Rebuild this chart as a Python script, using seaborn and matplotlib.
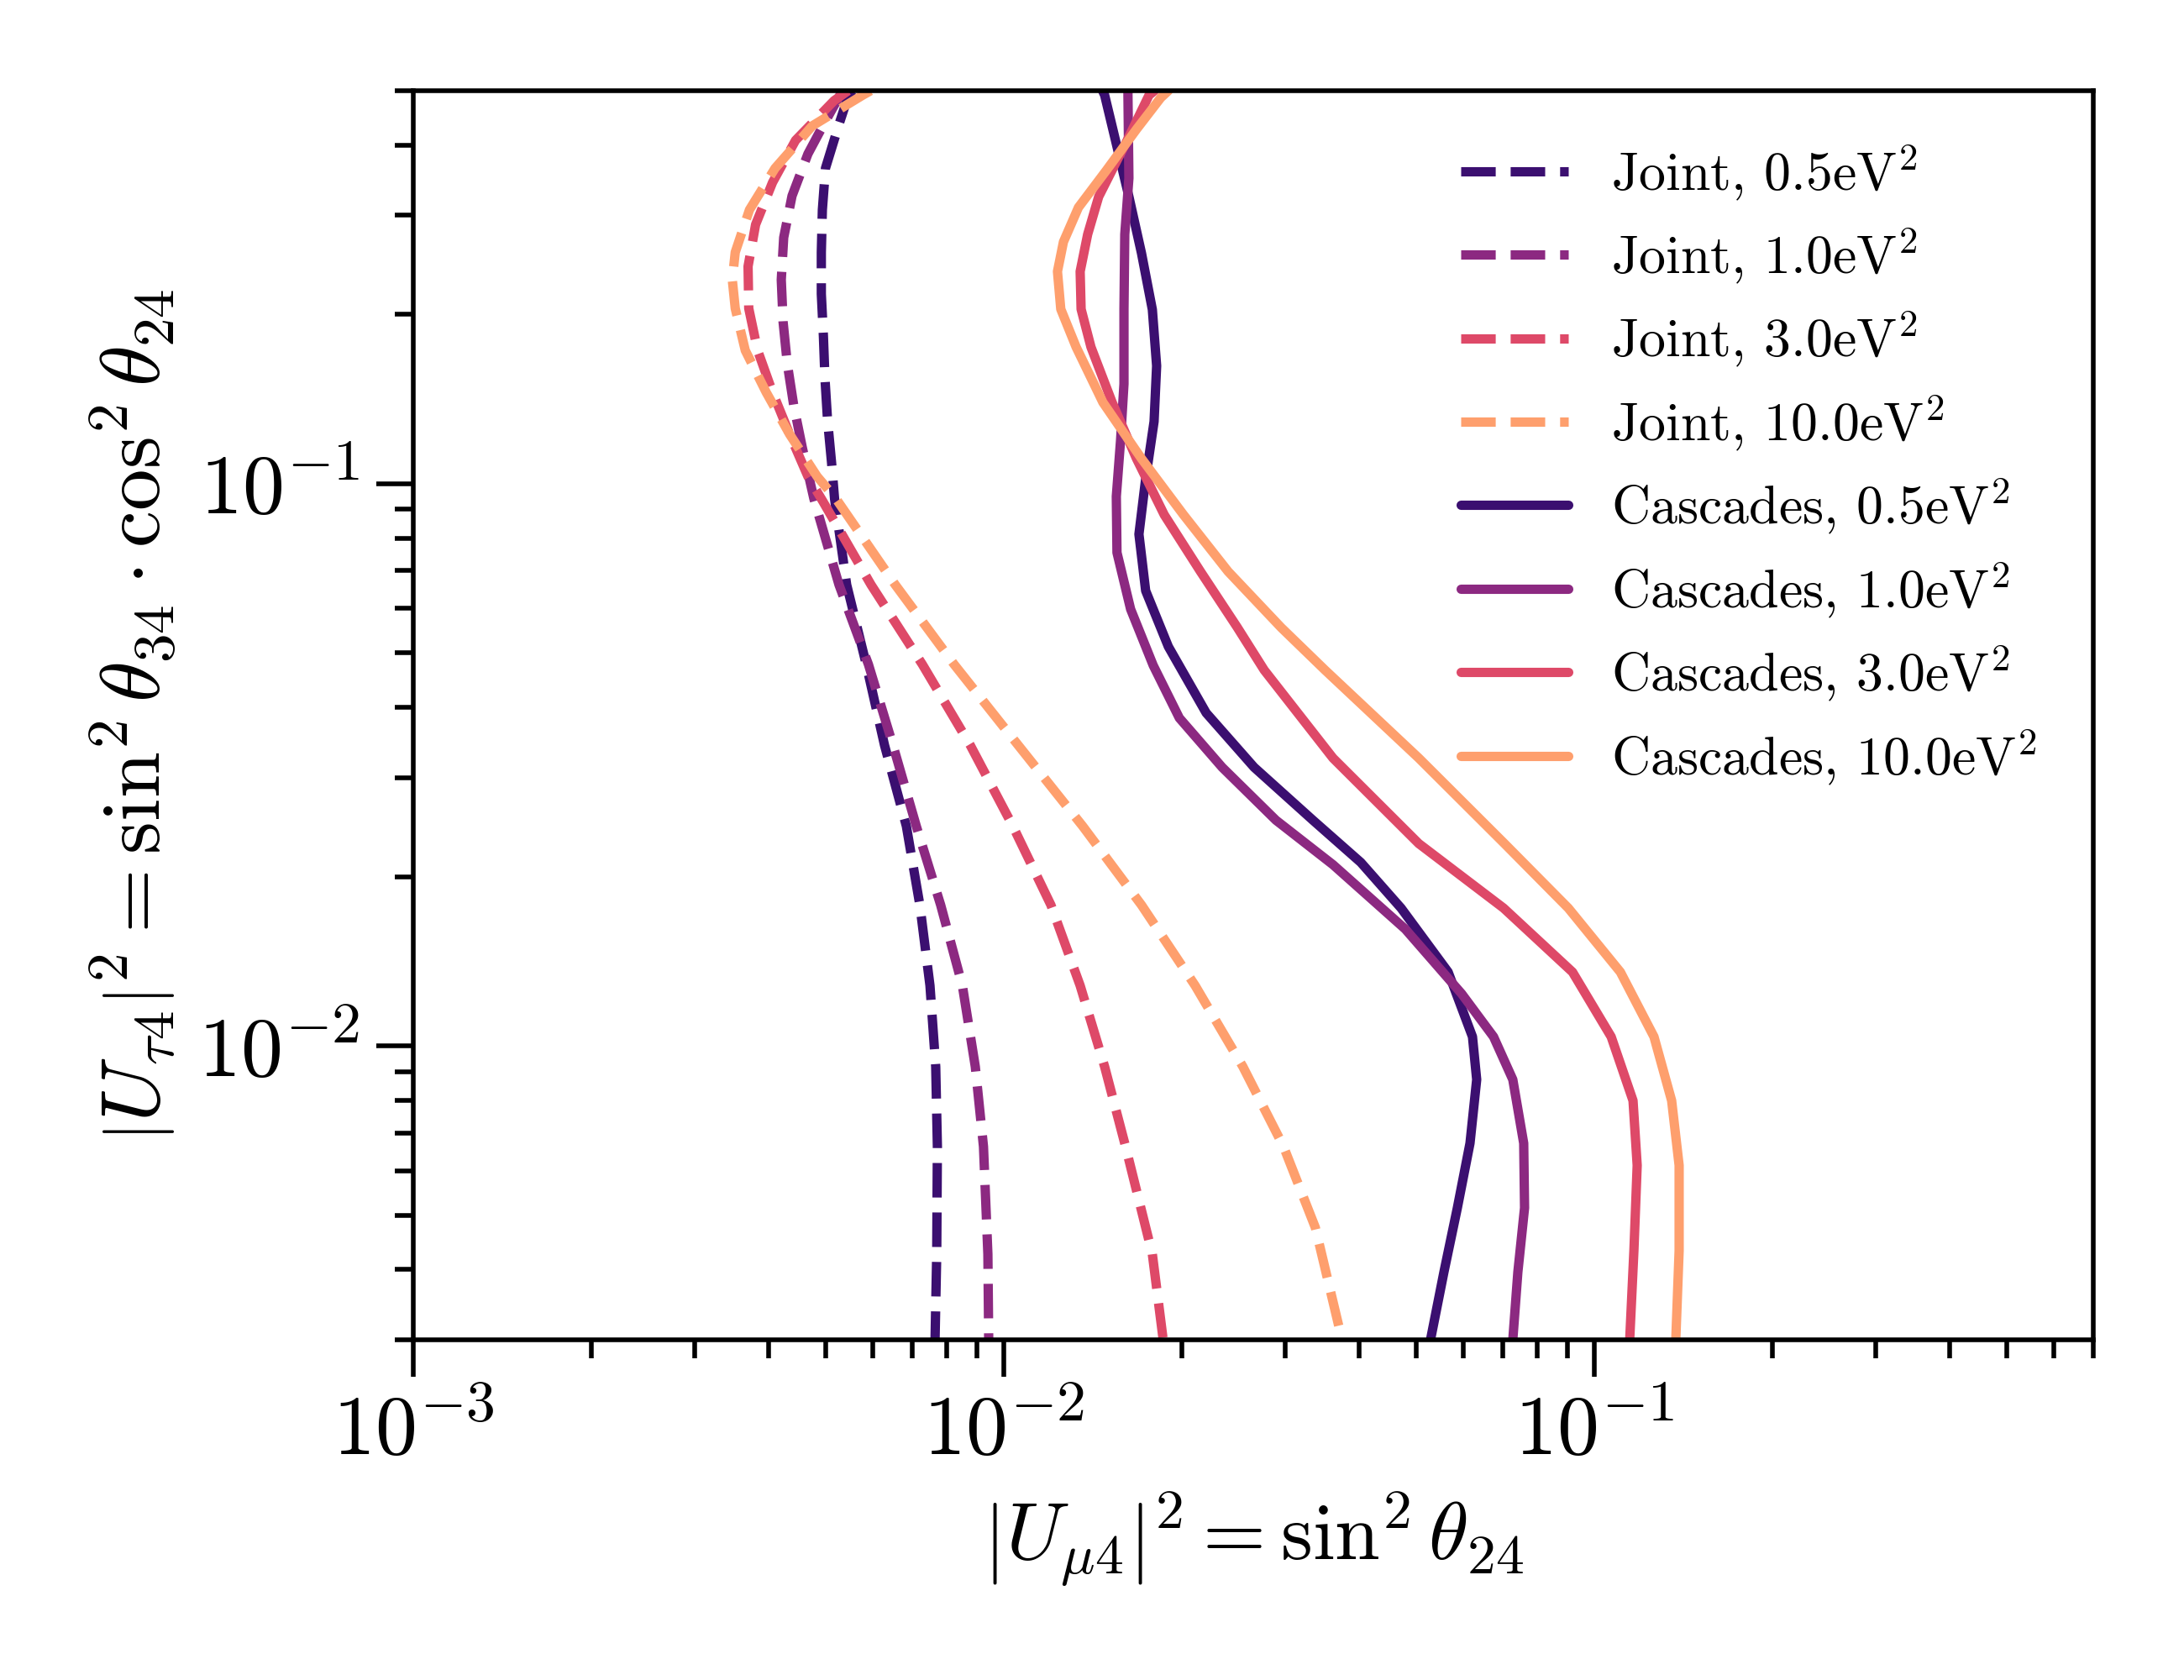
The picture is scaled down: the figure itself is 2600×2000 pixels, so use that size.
import numpy as np
import pandas as pd
import matplotlib
matplotlib.use("Agg")
import matplotlib.pyplot as plt
import seaborn as sns

# ------------------------------------------------------------------------------ #
# Data (x = |U_mu4|^2, y = |U_tau4|^2)
# ------------------------------------------------------------------------------ #
joint_05_y = [0.5, 0.491, 0.433, 0.364, 0.307, 0.258, 0.2175, 0.183, 0.154, 0.130, 0.109,
              0.094, 0.0661, 0.0477, 0.0343, 0.0246, 0.0178, 0.0128, 0.00918, 0.00662,
              0.00426, 0.003]
joint_05_x = [5.55e-3, 5.46e-3, 5.25e-3, 4.99e-3, 4.93e-3, 4.91e-3, 4.91e-3, 4.95e-3, 4.98e-3,
              5.03e-3, 5.11e-3, 5.17e-3, 5.42e-3, 5.85e-3, 6.28e-3, 6.84e-3, 7.21e-3, 7.50e-3,
              7.67e-3, 7.72e-3, 7.70e-3, 7.65e-3]

joint_1_y = [0.5, 0.491, 0.433, 0.386, 0.325, 0.274, 0.2305, 0.194, 0.1634, 0.1376, 0.1158,
             0.094, 0.0661, 0.0477, 0.0343, 0.0246, 0.0178, 0.0128, 0.00918, 0.00662,
             0.00426, 0.003]
joint_1_x = [5.45e-3, 5.28e-3, 4.94e-3, 4.66e-3, 4.38e-3, 4.24e-3, 4.20e-3, 4.23e-3, 4.30e-3,
             4.41e-3, 4.56e-3, 4.77e-3, 5.26e-3, 5.90e-3, 6.49e-3, 7.11e-3, 7.82e-3, 8.51e-3,
             8.95e-3, 9.24e-3, 9.40e-3, 9.43e-3]

joint_3_y = [0.5, 0.480, 0.408, 0.3435, 0.289, 0.2435, 0.205, 0.1726, 0.1454, 0.1224, 0.1030,
             0.093, 0.0661, 0.0477, 0.0343, 0.0246, 0.0178, 0.0128, 0.00918, 0.00662,
             0.00426, 0.003]
joint_3_x = [5.45e-3, 5.16e-3, 4.44e-3, 4.06e-3, 3.80e-3, 3.69e-3, 3.70e-3, 3.83e-3, 4.06e-3,
             4.34e-3, 4.66e-3, 4.94e-3, 5.96e-3, 7.28e-3, 8.77e-3, 1.036e-2, 1.202e-2,
             1.347e-2, 1.482e-2, 1.608e-2, 1.785e-2, 1.862e-2]

joint_10_y = [0.5, 0.491, 0.433, 0.364, 0.307, 0.258, 0.2305, 0.205, 0.1726, 0.1454, 0.1224,
              0.1030, 0.094, 0.0661, 0.0477, 0.0343, 0.0246, 0.0178, 0.0128, 0.00918,
              0.00662, 0.00475, 0.003]
joint_10_x = [5.95e-3, 5.77e-3, 4.74e-3, 4.10e-3, 3.71e-3, 3.51e-3, 3.47e-3, 3.51e-3, 3.65e-3,
              3.96e-3, 4.34e-3, 4.83e-3, 5.20e-3, 6.55e-3, 8.24e-3, 1.057e-2, 1.360e-2,
              1.711e-2, 2.109e-2, 2.541e-2, 2.977e-2, 3.37e-2, 3.74e-2]

casc_05_y = [0.5, 0.491, 0.408, 0.324, 0.257, 0.204, 0.162, 0.129, 0.102, 0.0813, 0.0645,
             0.0513, 0.0391, 0.0313, 0.0252, 0.0212, 0.01758, 0.01353, 0.01038, 0.00871,
             0.00671, 0.00515, 0.00396, 0.003]
casc_05_x = [0.0147, 0.01482, 0.01546, 0.01629, 0.01711, 0.01785, 0.01815, 0.01797, 0.01739,
             0.01694, 0.01739, 0.01900, 0.02202, 0.02654, 0.03338, 0.04023, 0.04708, 0.05656,
             0.06219, 0.06322, 0.06159, 0.05863, 0.05564, 0.05280]

casc_1_y = [0.5, 0.491, 0.3495, 0.2776, 0.2044, 0.1505, 0.1195, 0.0949, 0.0754, 0.0598,
            0.0475, 0.0383, 0.0313, 0.0252, 0.0210, 0.01613, 0.01238, 0.01038, 0.00871,
            0.00671, 0.00515, 0.00396, 0.003]
casc_1_x = [0.01623, 0.01623, 0.01629, 0.01603, 0.01598, 0.01598, 0.01577, 0.01551, 0.01555,
            0.01640, 0.01791, 0.01983, 0.02343, 0.02890, 0.03610, 0.04786, 0.05961, 0.06751,
            0.07278, 0.07594, 0.07619, 0.07423, 0.07278]

casc_3_y = [0.5, 0.491, 0.408, 0.324, 0.2776, 0.2385, 0.2044, 0.1750, 0.1395, 0.1108, 0.0880,
            0.0698, 0.0555, 0.0466, 0.0325, 0.0229, 0.01758, 0.01353, 0.01038, 0.00799,
            0.00613, 0.00432, 0.003]
casc_3_x = [0.0180, 0.01762, 0.01618, 0.01448, 0.01387, 0.01347, 0.01352, 0.01405, 0.01526,
            0.01678, 0.01870, 0.02153, 0.02486, 0.02761, 0.03610, 0.05043, 0.07021, 0.09185,
            0.1068, 0.1163, 0.1182, 0.1167, 0.1148]

casc_10_y = [0.5, 0.486, 0.427, 0.3605, 0.310, 0.2692, 0.2385, 0.2044, 0.1750, 0.1395, 0.1108,
             0.0880, 0.0698, 0.0555, 0.0466, 0.0325, 0.0229, 0.01758, 0.01353, 0.01038,
             0.00799, 0.00613, 0.00432, 0.003]
casc_10_x = [0.0190, 0.01845, 0.01678, 0.01491, 0.01338, 0.01262, 0.01233, 0.01249, 0.01326,
             0.01472, 0.01711, 0.02016, 0.02398, 0.02948, 0.03500, 0.05043, 0.07044, 0.09036,
             0.1107, 0.1262, 0.1352, 0.1392, 0.1392, 0.1374]

masses = ["0.5", "1.0", "3.0", "10.0"]
joint_curves = [(joint_05_x, joint_05_y), (joint_1_x, joint_1_y),
                (joint_3_x, joint_3_y), (joint_10_x, joint_10_y)]
casc_curves = [(casc_05_x, casc_05_y), (casc_1_x, casc_1_y),
               (casc_3_x, casc_3_y), (casc_10_x, casc_10_y)]

# ------------------------------------------------------------------------------ #
# Style
# ------------------------------------------------------------------------------ #
sns.set_style("ticks")
plt.rcParams["font.family"] = "serif"
plt.rcParams["font.serif"] = ["cmr10", "DejaVu Serif"]
plt.rcParams["mathtext.fontset"] = "cm"
plt.rcParams["axes.formatter.use_mathtext"] = True
plt.rcParams["axes.unicode_minus"] = False
for key in ["text.color", "axes.labelcolor", "axes.edgecolor", "xtick.color", "ytick.color"]:
    plt.rcParams[key] = "black"

colors = sns.color_palette("magma", 4)

fig, ax = plt.subplots(figsize=(6.5, 5), dpi=400)
fig.subplots_adjust(left=0.1892, right=0.9585, bottom=0.2025, top=0.946)

for (x, y), m, c in zip(joint_curves, masses, colors):
    df = pd.DataFrame({"x": x, "y": y})
    sns.lineplot(data=df, x="x", y="y", sort=False, estimator=None, ax=ax,
                 color=c, lw=2, linestyle="--", label=rf"Joint, {m}eV$^2$")

for (x, y), m, c in zip(casc_curves, masses, colors):
    df = pd.DataFrame({"x": x, "y": y})
    sns.lineplot(data=df, x="x", y="y", sort=False, estimator=None, ax=ax,
                 color=c, lw=2, linestyle="-", label=rf"Cascades, {m}eV$^2$")

ax.set_xscale("log")
ax.set_yscale("log")
ax.set_xlim(1e-3, 0.7)
ax.set_ylim(3e-3, 0.5)

ax.set_xlabel(r"$\left|U_{\mu 4}\right|^2 = \sin^2\theta_{24}$", fontsize=17.4)
ax.set_ylabel(r"$\left|U_{\tau 4}\right|^2 = \sin^2\theta_{34}\cdot\cos^2\theta_{24}$",
              fontsize=17.8)

for s in ax.spines.values():
    s.set_linewidth(1.0)
ax.tick_params(which="major", direction="out", length=8, width=1.0, labelsize=18)
ax.tick_params(which="minor", direction="out", length=4, width=1.0)

ax.legend(loc="upper right", bbox_to_anchor=(0.995, 0.997), frameon=False,
          fontsize=11.5, labelspacing=0.45)

fig.savefig("out.png", dpi=400)
